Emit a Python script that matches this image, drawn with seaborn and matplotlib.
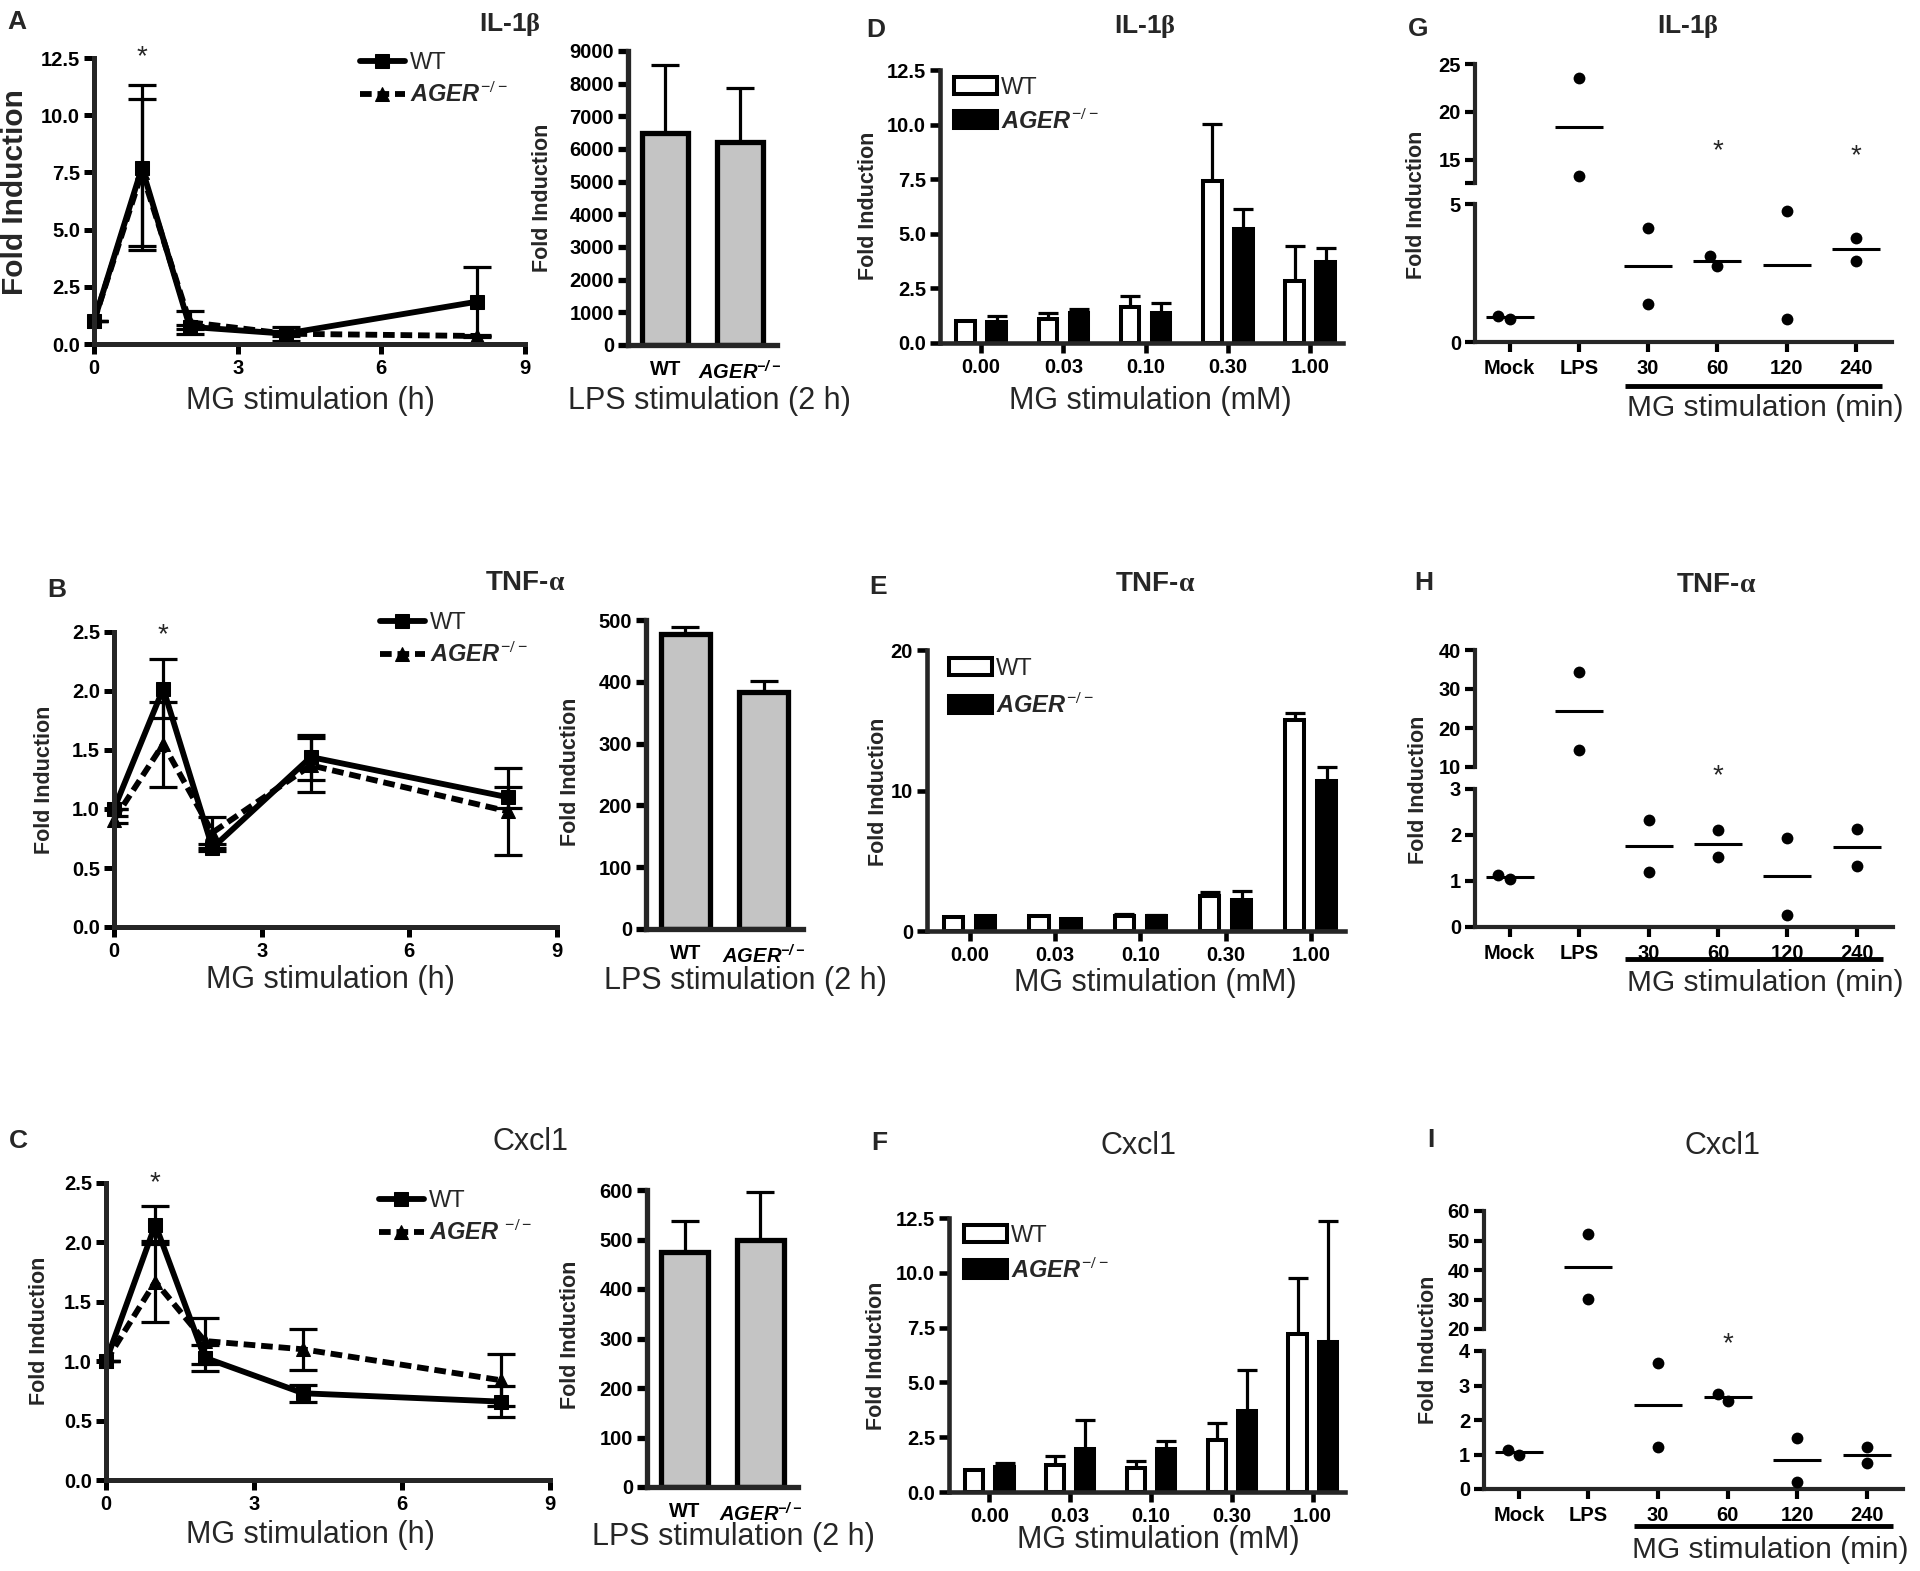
import pandas as pd
import matplotlib
matplotlib.use("Agg")
import matplotlib.pyplot as plt
import matplotlib.ticker as mtick
import matplotlib.transforms as mtrans
import seaborn as sns

# ---------------------------------------------------------------------------- #
# values

genotypes = ["WT", "AGER"]
hours = [0, 1, 2, 4, 8]
doses = ["0.00", "0.03", "0.10", "0.30", "1.00"]
groups = ["Mock", "LPS", "30", "60", "120", "240"]

# A-C: MG time course (mean, sem)
il1b_wt = [1.0, 7.7, 0.75, 0.45, 1.85]
il1b_wt_sem = [0.0, 3.6, 0.1, 0.1, 1.5]
il1b_ko = [1.0, 7.5, 0.95, 0.45, 0.35]
il1b_ko_sem = [0.0, 3.2, 0.5, 0.3, 0.05]

tnf_wt = [1.0, 2.02, 0.67, 1.44, 1.10]
tnf_wt_sem = [0.0, 0.25, 0.03, 0.19, 0.09]
tnf_ko = [0.91, 1.55, 0.80, 1.37, 0.98]
tnf_ko_sem = [0.03, 0.36, 0.13, 0.23, 0.37]

cxcl1_wt = [1.0, 2.15, 1.03, 0.73, 0.66]
cxcl1_wt_sem = [0.0, 0.16, 0.11, 0.07, 0.13]
cxcl1_ko = [1.0, 1.67, 1.17, 1.10, 0.84]
cxcl1_ko_sem = [0.0, 0.34, 0.19, 0.17, 0.22]

# LPS stimulation (2 h)
lps_il1b = [6490, 6220]
lps_il1b_sem = [2070, 1650]
lps_tnf = [478, 384]
lps_tnf_sem = [11, 18]
lps_cxcl1 = [475, 499]
lps_cxcl1_sem = [63, 96]

# D-F: MG dose response
dose_il1b_wt = [1.0, 1.10, 1.65, 7.42, 2.82]
dose_il1b_wt_sem = [0.0, 0.27, 0.48, 2.61, 1.63]
dose_il1b_ko = [0.96, 1.37, 1.37, 5.21, 3.70]
dose_il1b_ko_sem = [0.26, 0.20, 0.46, 0.93, 0.64]

dose_tnf_wt = [1.0, 1.10, 1.07, 2.49, 15.0]
dose_tnf_wt_sem = [0.0, 0.0, 0.16, 0.29, 0.5]
dose_tnf_ko = [1.05, 0.88, 1.05, 2.23, 10.7]
dose_tnf_ko_sem = [0.0, 0.0, 0.11, 0.62, 1.0]

dose_cxcl1_wt = [0.99, 1.25, 1.09, 2.39, 7.22]
dose_cxcl1_wt_sem = [0.0, 0.38, 0.31, 0.77, 2.54]
dose_cxcl1_ko = [1.14, 1.98, 1.98, 3.70, 6.85]
dose_cxcl1_ko_sem = [0.18, 1.29, 0.33, 1.85, 5.5]

# G-I: single replicates (two per group)
dots_il1b = [0.83, 0.95, 23.5, 13.3, 4.14, 1.39, 2.77, 3.12, 4.76, 0.84, 3.76, 2.95]
dots_tnf = [1.04, 1.14, 34.4, 14.3, 2.32, 1.20, 2.10, 1.52, 1.93, 0.27, 2.14, 1.32]
dots_cxcl1 = [0.99, 1.14, 52.1, 30.1, 3.64, 1.21, 2.55, 2.76, 1.47, 0.19, 0.75, 1.21]

# ---------------------------------------------------------------------------- #
sns.set_style("ticks")
plt.rcParams["font.family"] = ["Liberation Sans", "DejaVu Sans"]
plt.rcParams["font.weight"] = "bold"
plt.rcParams["mathtext.fontset"] = "custom"
plt.rcParams["mathtext.rm"] = "Liberation Serif"
plt.rcParams["mathtext.it"] = "Liberation Sans:italic"
plt.rcParams["mathtext.bf"] = "Liberation Sans:bold:italic"
plt.rcParams["xtick.labelsize"] = 14.5
plt.rcParams["ytick.labelsize"] = 14.5

W, H = 1920, 1571
fig = plt.figure(figsize=(W / 100, H / 100), dpi=100)

KO = r"$\mathit{AGER}^{\mathit{-/-}}$"
KO_BOLD = r"$\mathbf{AGER}^{\mathbf{-/-}}$"


def add_ax(l, t, r, b):
    return fig.add_axes([l / W, 1 - b / H, (r - l) / W, (b - t) / H])


def ftext(x, y, s, **kw):
    fig.text(x / W, 1 - y / H, s, ha="center", va="center", **kw)


def frame(ax, lw=3.6):
    sns.despine(ax=ax)
    ax.spines["left"].set_linewidth(lw)
    ax.spines["bottom"].set_linewidth(lw)
    ax.tick_params(width=lw, length=7, pad=3, colors="black")
    ax.set_xlabel("")
    ax.set_ylabel("")
    ax.set_facecolor("none")


def fig_legend(ax, handles, labels, x, y, **kw):
    ax.legend(handles, labels, loc="upper left",
              bbox_to_anchor=(x / W, 1 - y / H), bbox_transform=fig.transFigure,
              frameon=False, borderpad=0, borderaxespad=0,
              prop={"size": 17, "weight": "normal"}, **kw)


def line_panel(ax, wt, wt_sem, ko, ko_sem, ymax, star_y, leg_xy, ko_label=KO):
    df = pd.DataFrame({
        "hour": hours * 2,
        "fold": wt + ko,
        "sem": wt_sem + ko_sem,
        "genotype": ["WT"] * len(hours) + ["AGER"] * len(hours),
    })
    sns.lineplot(data=df, x="hour", y="fold", hue="genotype", style="genotype",
                 palette={"WT": "black", "AGER": "black"},
                 markers={"WT": "s", "AGER": "^"},
                 dashes={"WT": "", "AGER": (2, 1)},
                 linewidth=4.2, markersize=10.5, markeredgecolor="black",
                 errorbar=None, legend=False, clip_on=False, ax=ax)
    handles = list(ax.get_lines())[:2]
    for _, sub in df.groupby("genotype", sort=False):
        ax.errorbar(sub["hour"], sub["fold"], yerr=sub["sem"], fmt="none",
                    ecolor="black", elinewidth=2.3, capsize=10, capthick=2.3,
                    zorder=1)
    frame(ax)
    ax.set_xlim(0, 9)
    ax.set_ylim(0, ymax)
    ax.set_xticks([0, 3, 6, 9])
    ax.set_yticks([ymax / 5 * i for i in range(6)])
    ax.yaxis.set_major_formatter(mtick.FormatStrFormatter("%.1f"))
    ax.tick_params(axis="x", pad=4)
    ax.text(1, star_y, "*", ha="center", va="center", fontsize=20,
            fontweight="normal")
    fig_legend(ax, handles, ["WT", ko_label], *leg_xy,
               handlelength=1.9, handletextpad=0.2, labelspacing=0.35)


def lps_panel(ax, vals, sems, ymax, step):
    df = pd.DataFrame({"genotype": genotypes, "fold": vals, "sem": sems})
    sns.barplot(data=df, x="genotype", y="fold", color="#c4c4c4", saturation=1,
                edgecolor="black", linewidth=3.8, width=0.62, errorbar=None,
                ax=ax)
    for bar, s in zip(ax.patches, df["sem"]):
        eb = ax.errorbar(bar.get_x() + bar.get_width() / 2, bar.get_height(),
                         yerr=[[0], [s]], fmt="none", ecolor="black",
                         elinewidth=2.3, capsize=10, capthick=2.3, zorder=0.5)
        eb[1][0].set_visible(False)
    frame(ax, lw=3.8)
    ax.set_xlim(-0.5, 1.5)
    ax.set_ylim(0, ymax)
    ax.set_yticks(range(0, ymax + 1, step))
    ax.set_xticks([0, 1], ["WT", KO_BOLD])
    ax.tick_params(axis="x", length=0, pad=11)


def dose_panel(ax, wt, wt_sem, ko, ko_sem, ymax, yticks, fmt, leg_xy, spacing):
    df = pd.DataFrame({
        "dose": doses * 2,
        "fold": wt + ko,
        "sem": wt_sem + ko_sem,
        "genotype": ["WT"] * len(doses) + ["AGER"] * len(doses),
    })
    sns.barplot(data=df, x="dose", y="fold", hue="genotype", order=doses,
                hue_order=genotypes, palette={"WT": "white", "AGER": "black"},
                saturation=1, edgecolor="black", linewidth=2.9, width=0.75,
                gap=0.4, errorbar=None, legend=False, ax=ax)
    bars = list(ax.patches)
    for bar, s in zip(bars, df["sem"]):
        if s <= 0:
            continue
        eb = ax.errorbar(bar.get_x() + bar.get_width() / 2, bar.get_height(),
                         yerr=[[0], [s]], fmt="none", ecolor="black",
                         elinewidth=2.3, capsize=7, capthick=2.3, zorder=0.5)
        eb[1][0].set_visible(False)
    frame(ax, lw=3.3)
    ax.set_xlim(-0.5, 4.4)
    ax.set_ylim(0, ymax)
    ax.set_yticks(yticks)
    ax.yaxis.set_major_formatter(mtick.FormatStrFormatter(fmt))
    ax.tick_params(axis="x", pad=4)
    fig_legend(ax, [bars[0], bars[len(doses)]], ["WT", KO], *leg_xy,
               handlelength=1.8, handleheight=0.75, handletextpad=0.2,
               labelspacing=spacing)


def dot_panel(ax_top, ax_bot, vals, top_lim, top_ticks, bot_lim, bot_ticks,
              line_y, label_xy):
    df = pd.DataFrame({"group": [g for g in groups for _ in range(2)],
                       "fold": vals})
    for ax in (ax_top, ax_bot):
        sns.swarmplot(data=df, x="group", y="fold", order=groups,
                      color="black", size=8.5, ax=ax)
        sns.pointplot(data=df, x="group", y="fold", order=groups,
                      errorbar=None, color="black", markers="_",
                      linestyles="none", markersize=34, markeredgewidth=2.2,
                      ax=ax)
        frame(ax, lw=3.0)
        ax.set_xlim(-0.5, 5.52)
    ax_top.set_ylim(*top_lim)
    ax_top.set_yticks(top_ticks)
    ax_top.spines["bottom"].set_visible(False)
    ax_top.tick_params(axis="x", bottom=False, labelbottom=False)
    ax_bot.set_ylim(*bot_lim)
    ax_bot.set_yticks(bot_ticks)
    ax_bot.tick_params(axis="x", pad=5)
    trans = mtrans.blended_transform_factory(ax_bot.transData, fig.transFigure)
    ax_bot.plot([1.66, 5.37], [1 - line_y / H] * 2, transform=trans,
                color="black", lw=3.5, clip_on=False, solid_capstyle="butt")
    ftext(*label_xy, "MG stimulation (min)", fontsize=21.5, fontweight="normal")


# ---------------------------------------------------------------------------- #
# row 1: IL-1b
ax = add_ax(94, 58, 525, 344)
line_panel(ax, il1b_wt, il1b_wt_sem, il1b_ko, il1b_ko_sem, 12.5, 12.55,
           (360, 52))
ax = add_ax(628, 51, 777, 345)
lps_panel(ax, lps_il1b, lps_il1b_sem, 9000, 1000)
ax = add_ax(940, 70, 1343, 343)
dose_panel(ax, dose_il1b_wt, dose_il1b_wt_sem, dose_il1b_ko, dose_il1b_ko_sem,
           12.5, [0, 2.5, 5, 7.5, 10, 12.5], "%.1f", (954, 77), 0.4)
ax_t, ax_b = add_ax(1475, 64, 1892, 183), add_ax(1475, 204, 1892, 342)
dot_panel(ax_t, ax_b, dots_il1b, (12.6, 25), [12.6, 15, 20, 25], (0, 5),
          [0, 5], 386, (1765, 408))
ax_t.set_yticklabels(["", "15", "20", "25"])
ax_t.text(3, 15.9, "*", ha="center", va="center", fontsize=20, fontweight="normal")
ax_t.text(5, 15.35, "*", ha="center", va="center", fontsize=20, fontweight="normal")

# row 2: TNF-a
ax = add_ax(114, 632, 557, 927)
line_panel(ax, tnf_wt, tnf_wt_sem, tnf_ko, tnf_ko_sem, 2.5, 2.47, (380, 612))
ax = add_ax(646, 620, 803, 929)
lps_panel(ax, lps_tnf, lps_tnf_sem, 500, 100)
ax = add_ax(927, 650, 1345, 931)
dose_panel(ax, dose_tnf_wt, dose_tnf_wt_sem, dose_tnf_ko, dose_tnf_ko_sem,
           20, [0, 10, 20], "%d", (949, 658), 0.55)
ax_t, ax_b = add_ax(1475, 650, 1893, 767), add_ax(1475, 789, 1893, 927)
dot_panel(ax_t, ax_b, dots_tnf, (10, 40), [10, 20, 30, 40], (0, 3),
          [0, 1, 2, 3], 959, (1765, 983))
ax_b.text(3, 3.28, "*", ha="center", va="center", fontsize=20,
          fontweight="normal", clip_on=False)

# row 3: Cxcl1
ax = add_ax(106, 1183, 550, 1480)
line_panel(ax, cxcl1_wt, cxcl1_wt_sem, cxcl1_ko, cxcl1_ko_sem, 2.5, 2.5,
           (379, 1190), ko_label=r"$\mathit{AGER}\ ^{\mathit{-/-}}$")
ax = add_ax(647, 1190, 798, 1487)
lps_panel(ax, lps_cxcl1, lps_cxcl1_sem, 600, 100)
ax = add_ax(949, 1218, 1345, 1492)
dose_panel(ax, dose_cxcl1_wt, dose_cxcl1_wt_sem, dose_cxcl1_ko,
           dose_cxcl1_ko_sem, 12.5, [0, 2.5, 5, 7.5, 10, 12.5], "%.1f",
           (964, 1225), 0.45)
ax_t, ax_b = add_ax(1484, 1211, 1903, 1329), add_ax(1484, 1351, 1903, 1489)
dot_panel(ax_t, ax_b, dots_cxcl1, (20, 60), [20, 30, 40, 50, 60], (0, 4),
          [0, 1, 2, 3, 4], 1526, (1770, 1550))
ax_b.text(3, 4.2, "*", ha="center", va="center", fontsize=20,
          fontweight="normal", clip_on=False)

# ---------------------------------------------------------------------------- #
# panel letters, titles, axis labels
for letter, x, y in [("A", 17, 22), ("B", 57, 590), ("C", 18, 1141),
                     ("D", 876, 30), ("E", 878, 587), ("F", 879, 1143),
                     ("G", 1418, 29), ("H", 1424, 583), ("I", 1431, 1140)]:
    ftext(x, y, letter, fontsize=19, fontweight="bold")

for x, y in [(510, 24), (1145, 26), (1688, 26)]:
    ftext(x, y, r"IL-1$\mathrm{\beta}$", fontsize=19, fontweight="bold")
for x, y in [(525, 583), (1155, 584), (1716, 585)]:
    ftext(x, y, r"TNF-$\mathrm{\alpha}$", fontsize=20, fontweight="bold")
for x, y in [(531, 1142), (1138, 1146), (1722, 1146)]:
    ftext(x, y, "Cxcl1", fontsize=22, fontweight="normal")

ftext(15, 192, "Fold Induction", rotation=90, fontsize=21.5, fontweight="bold")
for x, y in [(542, 198), (868, 206), (1417, 205),
             (45, 780), (570, 772), (878, 792), (1418, 790),
             (40, 1331), (570, 1335), (876, 1356), (1428, 1350)]:
    ftext(x, y, "Fold Induction", rotation=90, fontsize=15.5, fontweight="bold")

for x, y in [(310, 401), (330, 980), (310, 1535)]:
    ftext(x, y, "MG stimulation (h)", fontsize=22, fontweight="normal")
for x, y in [(709, 401), (745, 981), (733, 1537)]:
    ftext(x, y, "LPS stimulation (2 h)", fontsize=22, fontweight="normal")
for x, y in [(1150, 401), (1155, 983), (1158, 1540)]:
    ftext(x, y, "MG stimulation (mM)", fontsize=22, fontweight="normal")

fig.savefig("out.png", dpi=100)
